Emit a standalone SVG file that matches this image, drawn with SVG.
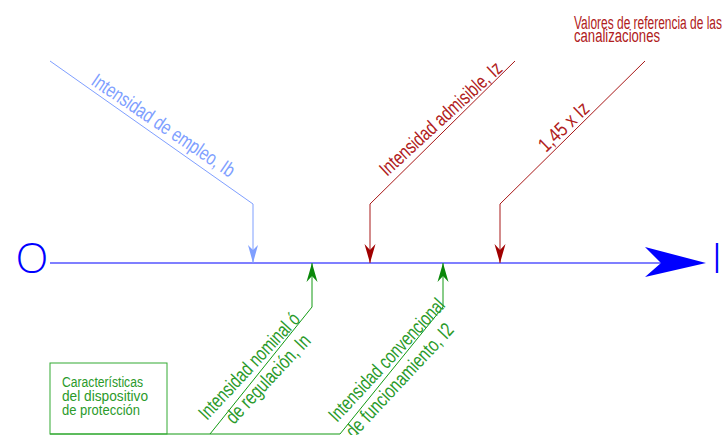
<svg xmlns="http://www.w3.org/2000/svg" width="727" height="435" viewBox="0 0 727 435">
  <style>
    text { font-family: "Liberation Sans", Arial, sans-serif; }
    .lbl { font-size: 20px; }
    .big { font-family: "Open Sans", "DejaVu Sans", sans-serif; font-weight: 300; font-size: 43px; fill: #0000ff; }
    .bl { fill: none; stroke: #7f9fff; stroke-width: 1; }
    .rd { fill: none; stroke: #a81818; stroke-width: 1; }
    .gr { fill: none; stroke: #139a13; stroke-width: 1; }
    .tb { fill: #7f9fff; }
    .tr { fill: #b02020; }
    .tg { fill: #2a9a2a; }
  </style>
  <defs>
    <marker id="ab" markerUnits="userSpaceOnUse" markerWidth="24" markerHeight="14" viewBox="-20 -7 22 14" refX="0" refY="0" orient="auto">
      <path d="M0,0 L-18,-5 L-13,0 L-18,5 Z" fill="#7f9fff"/>
    </marker>
    <marker id="ar" markerUnits="userSpaceOnUse" markerWidth="24" markerHeight="14" viewBox="-20 -7 22 14" refX="0" refY="0" orient="auto">
      <path d="M0,0 L-19,-5.5 L-13,0 L-19,5.5 Z" fill="#a00000"/>
    </marker>
    <marker id="ag" markerUnits="userSpaceOnUse" markerWidth="24" markerHeight="14" viewBox="-20 -7 22 14" refX="0" refY="0" orient="auto">
      <path d="M0,0 L-19,-5.5 L-13,0 L-19,5.5 Z" fill="#0a880a"/>
    </marker>
  </defs>

  <g id="connectors">
    <line x1="50" y1="263" x2="662" y2="263" stroke="#0000ff" stroke-width="1.2"/>
    <polygon points="645,247 706,263 645,277 661,263" fill="#0000ff"/>
    <polyline class="bl" points="50,61 253,204 253,263" marker-end="url(#ab)"/>
    <polyline class="rd" points="515,61 370,204 370,263" marker-end="url(#ar)"/>
    <polyline class="rd" points="645,61 500,204 500,263" marker-end="url(#ar)"/>
    <polyline class="gr" points="50,434 340,434"/>
    <polyline class="gr" points="210,434 312,307 312,263" marker-end="url(#ag)"/>
    <polyline class="gr" points="340,434 443,307 443,263" marker-end="url(#ag)"/>
  </g>

  <g id="origin">
    <text class="big" x="32" y="272.5" text-anchor="middle">O</text>
  </g>
  <g id="end">
    <text class="big" x="717" y="272.5" text-anchor="middle">I</text>
  </g>

  <g id="ib">
    <text class="lbl tb" transform="translate(90,84) rotate(34)" textLength="168" lengthAdjust="spacingAndGlyphs">Intensidad de empleo, Ib</text>
  </g>
  <g id="iz">
    <text class="lbl tr" transform="translate(387,177) rotate(-42.5)" textLength="158" lengthAdjust="spacingAndGlyphs">Intensidad admisible, Iz</text>
  </g>
  <g id="iz145">
    <text class="lbl tr" transform="translate(546,153) rotate(-44)" textLength="62" lengthAdjust="spacingAndGlyphs">1,45 x Iz</text>
  </g>
  <g id="title">
    <text class="tr" font-size="18" x="574" y="29" textLength="148" lengthAdjust="spacingAndGlyphs">Valores de referencia de las</text>
    <text class="tr" font-size="18" x="574" y="42" textLength="86" lengthAdjust="spacingAndGlyphs">canalizaciones</text>
  </g>
  <g id="in">
    <text class="lbl tg" transform="translate(207,421) rotate(-47)" textLength="138" lengthAdjust="spacingAndGlyphs">Intensidad nominal ó</text>
    <text class="lbl tg" transform="translate(234,425) rotate(-47)" textLength="114" lengthAdjust="spacingAndGlyphs">de regulación, In</text>
  </g>
  <g id="i2">
    <text class="lbl tg" transform="translate(337,423) rotate(-47)" textLength="160" lengthAdjust="spacingAndGlyphs">Intensidad convencional</text>
    <text class="lbl tg" transform="translate(354,439) rotate(-47)" textLength="148" lengthAdjust="spacingAndGlyphs">de funcionamiento, I2</text>
  </g>
  <g id="box">
    <rect x="50" y="363" width="117" height="71" fill="none" stroke="#33aa33" stroke-width="1"/>
    <text class="tg" font-size="14" x="62" y="386.5" textLength="81" lengthAdjust="spacingAndGlyphs">Características</text>
    <text class="tg" font-size="14" x="62" y="400.5" textLength="86" lengthAdjust="spacingAndGlyphs">del dispositivo</text>
    <text class="tg" font-size="14" x="62" y="414.5" textLength="78" lengthAdjust="spacingAndGlyphs">de protección</text>
  </g>
</svg>
